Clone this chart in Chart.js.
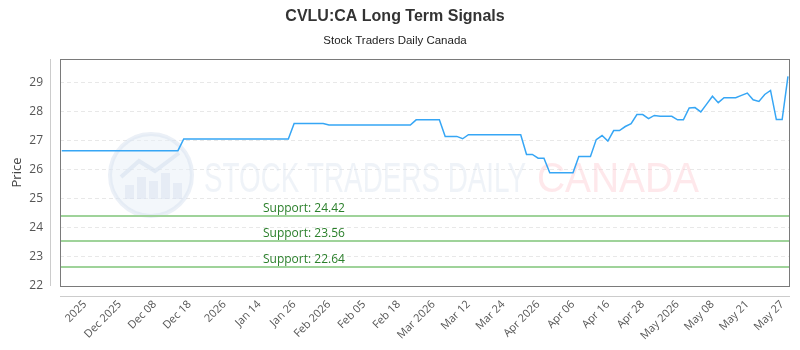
<!DOCTYPE html>
<html>
<head>
<meta charset="utf-8">
<script src="https://cdn.jsdelivr.net/npm/chart.js@4.4.1/dist/chart.umd.min.js"></script>
<style>
  html, body { margin: 0; padding: 0; background: #fff; }
  #wrap { width: 800px; height: 350px; position: relative; }
</style>
</head>
<body>
<div id="wrap"><canvas id="c" width="800" height="350"></canvas></div>
<script>
// ---- data ----
const chartTitle = 'CVLU:CA Long Term Signals';
const chartSubtitle = 'Stock Traders Daily Canada';
const tickLabels = ['2025', 'Dec 2025', 'Dec 08', 'Dec 18', '2026', 'Jan 14', 'Jan 26', 'Feb 2026',
  'Feb 05', 'Feb 18', 'Mar 2026', 'Mar 12', 'Mar 24', 'Apr 2026', 'Apr 06', 'Apr 16', 'Apr 28',
  'May 2026', 'May 08', 'May 21', 'May 27'];
const tickFirstIndex = 4;
const tickEvery = 6;
const prices = [
  26.65, 26.65, 26.65, 26.65, 26.65, 26.65, 26.65, 26.65, 26.65, 26.65,
  26.65, 26.65, 26.65, 26.65, 26.65, 26.65, 26.65, 26.65, 26.65, 26.65,
  26.65, 27.05, 27.05, 27.05, 27.05, 27.05, 27.05, 27.05, 27.05, 27.05,
  27.05, 27.05, 27.05, 27.05, 27.05, 27.05, 27.05, 27.05, 27.05, 27.05,
  27.58, 27.58, 27.58, 27.58, 27.58, 27.58, 27.53, 27.53, 27.53, 27.53,
  27.53, 27.53, 27.53, 27.53, 27.53, 27.53, 27.53, 27.53, 27.53, 27.53,
  27.53, 27.71, 27.71, 27.71, 27.71, 27.71, 27.14, 27.14, 27.14, 27.06,
  27.20, 27.20, 27.20, 27.20, 27.20, 27.20, 27.20, 27.20, 27.20, 27.20,
  26.52, 26.52, 26.39, 26.39, 25.89, 25.89, 25.89, 25.89, 25.89, 26.45,
  26.45, 26.45, 27.03, 27.17, 26.98, 27.34, 27.34, 27.48, 27.58, 27.89,
  27.89, 27.75, 27.86, 27.83, 27.83, 27.83, 27.71, 27.71, 28.12, 28.13,
  27.98, 28.25, 28.52, 28.30, 28.47, 28.47, 28.47, 28.55, 28.63, 28.40,
  28.34, 28.58, 28.72, 27.72, 27.72, 29.20
];
const supportLevels = [24.42, 23.56, 22.64];
const yMin = 22, yMax = 29.8;

// ---- plugins ----
const frame = {
  id: 'frame',
  beforeDatasetsDraw(chart) {
    const { ctx } = chart;
    ctx.save();
    // faint watermark
    const cx = 151, cy = 175, r = 41;
    ctx.beginPath();
    ctx.arc(cx, cy, r, 0, Math.PI * 2);
    ctx.fillStyle = 'rgba(232,239,248,0.5)';
    ctx.fill();
    ctx.lineWidth = 4;
    ctx.strokeStyle = 'rgba(215,226,240,0.5)';
    ctx.stroke();
    ctx.fillStyle = 'rgba(205,216,234,0.35)';
    [[-26, 14], [-14, 22], [-2, 18], [10, 26], [22, 16]].forEach(([dx, h]) => {
      ctx.fillRect(cx + dx, cy + 24 - h, 9, h);
    });
    ctx.beginPath();
    ctx.moveTo(cx - 30, cy + 2);
    ctx.lineTo(cx - 12, cy - 14);
    ctx.lineTo(cx + 4, cy - 4);
    ctx.lineTo(cx + 28, cy - 22);
    ctx.lineWidth = 4;
    ctx.strokeStyle = 'rgba(210,222,238,0.5)';
    ctx.stroke();
    ctx.font = '42px "Liberation Sans", sans-serif';
    ctx.textBaseline = 'alphabetic';
    ctx.textAlign = 'left';
    ctx.fillStyle = 'rgba(220,228,240,0.45)';
    ctx.fillText('STOCK TRADERS DAILY', 204, 192, 322);
    ctx.fillStyle = 'rgba(252,205,210,0.45)';
    ctx.fillText('CANADA', 537, 192, 162);
    ctx.restore();
  },
  afterDatasetsDraw(chart) {
    const { ctx, chartArea: a } = chart;
    const y = chart.scales.y;
    ctx.save();
    supportLevels.forEach(v => {
      const py = Math.round(y.getPixelForValue(v));
      ctx.beginPath();
      ctx.moveTo(a.left, py);
      ctx.lineTo(a.right, py);
      ctx.lineWidth = 2;
      ctx.strokeStyle = '#9fd39a';
      ctx.stroke();
      ctx.font = '12px "Open Sans", sans-serif';
      ctx.fillStyle = '#2a7f2a';
      ctx.textAlign = 'left';
      ctx.textBaseline = 'bottom';
      ctx.fillText('Support: ' + v.toFixed(2), 263, py - 1);
    });
    // chart frame
    ctx.lineWidth = 1;
    ctx.strokeStyle = '#7a7a7a';
    ctx.strokeRect(a.left + 0.5, a.top + 0.5, a.right - a.left - 1, a.bottom - a.top);
    // offset axis lines
    ctx.strokeStyle = '#cccccc';
    ctx.beginPath();
    ctx.moveTo(a.left - 9.5, a.top);
    ctx.lineTo(a.left - 9.5, a.bottom);
    ctx.moveTo(a.left, a.bottom + 10.5);
    ctx.lineTo(a.right, a.bottom + 10.5);
    ctx.stroke();
    ctx.restore();
  }
};

// ---- chart ----
const points = prices.map((v, i) => ({ x: i, y: v }));

new Chart(document.getElementById('c'), {
  type: 'line',
  data: {
    datasets: [{
      label: 'Price',
      data: points,
      borderColor: '#36a6f5',
      borderWidth: 1.5,
      pointRadius: 0,
      tension: 0,
      fill: false
    }]
  },
  options: {
    responsive: false,
    animation: false,
    layout: { padding: { left: 0, right: 10, top: 0, bottom: 0 } },
    plugins: {
      legend: { display: false },
      tooltip: { enabled: false },
      title: {
        display: true, text: chartTitle, color: '#333',
        font: { family: '"Liberation Sans", sans-serif', size: 16, weight: 'bold' },
        padding: { top: 7, bottom: 3 }
      },
      subtitle: {
        display: true, text: chartSubtitle, color: '#222',
        font: { family: '"Liberation Sans", sans-serif', size: 11.5 },
        padding: { top: 5, bottom: 11 }
      }
    },
    scales: {
      x: {
        type: 'linear',
        min: -0.3, max: prices.length - 0.65,
        afterBuildTicks(s) {
          s.ticks = tickLabels.map((t, k) => ({ value: tickFirstIndex + k * tickEvery }));
        },
        afterFit(s) { s.height = 64; s.paddingRight = 0; s.paddingLeft = 0; },
        grid: { display: false, drawTicks: false },
        border: { display: false },
        ticks: {
          autoSkip: false, minRotation: 45, maxRotation: 45, padding: 12,
          color: '#555', font: { family: '"Open Sans", sans-serif', size: 11 },
          callback(v) {
            const k = Math.round((v - tickFirstIndex) / tickEvery);
            return tickLabels[k] !== undefined ? tickLabels[k] : '';
          }
        }
      },
      y: {
        min: yMin, max: yMax,
        afterFit(s) { s.width = 60; },
        grid: { color: '#e8e8e8', drawTicks: false },
        border: { display: false, dash: [4, 3] },
        ticks: {
          stepSize: 1, includeBounds: false, padding: 17,
          color: '#555', font: { family: '"Open Sans", sans-serif', size: 12 },
          callback(v) { return Number.isInteger(v) ? v : ''; }
        },
        title: {
          display: true, text: 'Price', color: '#444',
          font: { family: '"Open Sans", sans-serif', size: 13 },
          padding: { top: 9, bottom: 0 }
        }
      }
    }
  },
  plugins: [frame]
});
</script>
</body>
</html>
